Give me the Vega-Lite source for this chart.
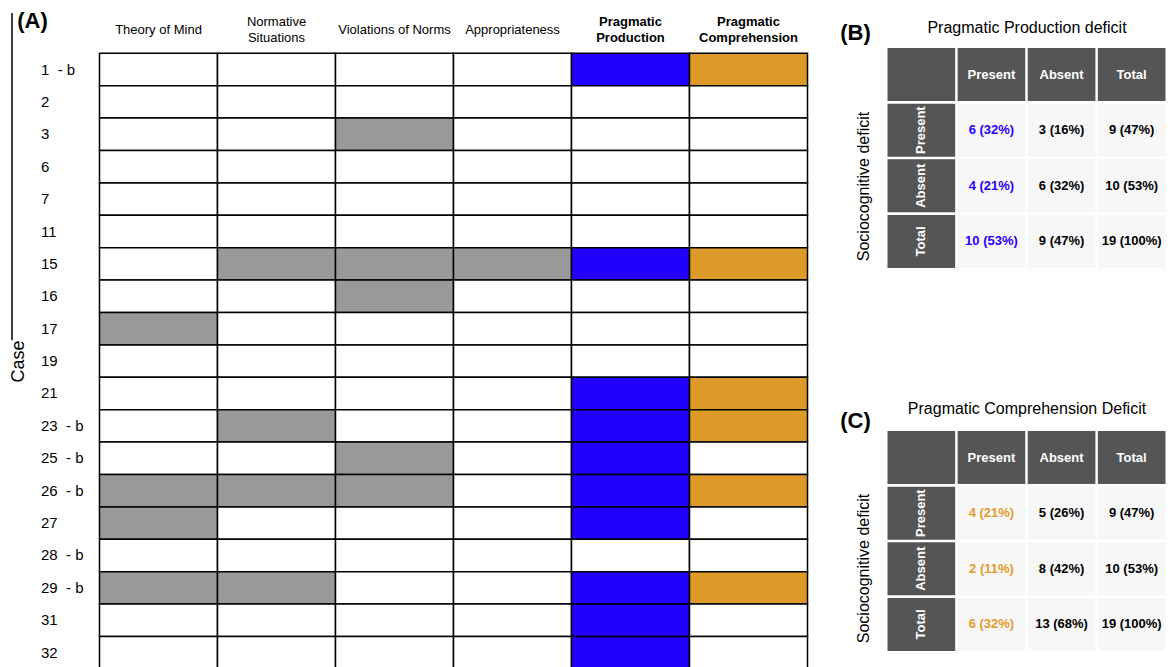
{
 "$schema": "https://vega.github.io/schema/vega-lite/v6.json",
 "padding": {"left": 9.5, "top": 9, "right": 0, "bottom": 0},
 "background": "white",
 "config": {"view": {"stroke": null}, "font": "Liberation Sans"},
 "datasets": {
  "grid": [
   {"case":"1\u00a0\u00a0- b","m":"Theory of Mind","s":"none"},{"case":"1\u00a0\u00a0- b","m":"Normative|Situations","s":"none"},{"case":"1\u00a0\u00a0- b","m":"Violations of Norms","s":"none"},{"case":"1\u00a0\u00a0- b","m":"Appropriateness","s":"none"},{"case":"1\u00a0\u00a0- b","m":"Pragmatic|Production","s":"prod"},{"case":"1\u00a0\u00a0- b","m":"Pragmatic|Comprehension","s":"comp"},
   {"case":"2","m":"Theory of Mind","s":"none"},{"case":"2","m":"Normative|Situations","s":"none"},{"case":"2","m":"Violations of Norms","s":"none"},{"case":"2","m":"Appropriateness","s":"none"},{"case":"2","m":"Pragmatic|Production","s":"none"},{"case":"2","m":"Pragmatic|Comprehension","s":"none"},
   {"case":"3","m":"Theory of Mind","s":"none"},{"case":"3","m":"Normative|Situations","s":"none"},{"case":"3","m":"Violations of Norms","s":"socio"},{"case":"3","m":"Appropriateness","s":"none"},{"case":"3","m":"Pragmatic|Production","s":"none"},{"case":"3","m":"Pragmatic|Comprehension","s":"none"},
   {"case":"6","m":"Theory of Mind","s":"none"},{"case":"6","m":"Normative|Situations","s":"none"},{"case":"6","m":"Violations of Norms","s":"none"},{"case":"6","m":"Appropriateness","s":"none"},{"case":"6","m":"Pragmatic|Production","s":"none"},{"case":"6","m":"Pragmatic|Comprehension","s":"none"},
   {"case":"7","m":"Theory of Mind","s":"none"},{"case":"7","m":"Normative|Situations","s":"none"},{"case":"7","m":"Violations of Norms","s":"none"},{"case":"7","m":"Appropriateness","s":"none"},{"case":"7","m":"Pragmatic|Production","s":"none"},{"case":"7","m":"Pragmatic|Comprehension","s":"none"},
   {"case":"11","m":"Theory of Mind","s":"none"},{"case":"11","m":"Normative|Situations","s":"none"},{"case":"11","m":"Violations of Norms","s":"none"},{"case":"11","m":"Appropriateness","s":"none"},{"case":"11","m":"Pragmatic|Production","s":"none"},{"case":"11","m":"Pragmatic|Comprehension","s":"none"},
   {"case":"15","m":"Theory of Mind","s":"none"},{"case":"15","m":"Normative|Situations","s":"socio"},{"case":"15","m":"Violations of Norms","s":"socio"},{"case":"15","m":"Appropriateness","s":"socio"},{"case":"15","m":"Pragmatic|Production","s":"prod"},{"case":"15","m":"Pragmatic|Comprehension","s":"comp"},
   {"case":"16","m":"Theory of Mind","s":"none"},{"case":"16","m":"Normative|Situations","s":"none"},{"case":"16","m":"Violations of Norms","s":"socio"},{"case":"16","m":"Appropriateness","s":"none"},{"case":"16","m":"Pragmatic|Production","s":"none"},{"case":"16","m":"Pragmatic|Comprehension","s":"none"},
   {"case":"17","m":"Theory of Mind","s":"socio"},{"case":"17","m":"Normative|Situations","s":"none"},{"case":"17","m":"Violations of Norms","s":"none"},{"case":"17","m":"Appropriateness","s":"none"},{"case":"17","m":"Pragmatic|Production","s":"none"},{"case":"17","m":"Pragmatic|Comprehension","s":"none"},
   {"case":"19","m":"Theory of Mind","s":"none"},{"case":"19","m":"Normative|Situations","s":"none"},{"case":"19","m":"Violations of Norms","s":"none"},{"case":"19","m":"Appropriateness","s":"none"},{"case":"19","m":"Pragmatic|Production","s":"none"},{"case":"19","m":"Pragmatic|Comprehension","s":"none"},
   {"case":"21","m":"Theory of Mind","s":"none"},{"case":"21","m":"Normative|Situations","s":"none"},{"case":"21","m":"Violations of Norms","s":"none"},{"case":"21","m":"Appropriateness","s":"none"},{"case":"21","m":"Pragmatic|Production","s":"prod"},{"case":"21","m":"Pragmatic|Comprehension","s":"comp"},
   {"case":"23\u00a0\u00a0- b","m":"Theory of Mind","s":"none"},{"case":"23\u00a0\u00a0- b","m":"Normative|Situations","s":"socio"},{"case":"23\u00a0\u00a0- b","m":"Violations of Norms","s":"none"},{"case":"23\u00a0\u00a0- b","m":"Appropriateness","s":"none"},{"case":"23\u00a0\u00a0- b","m":"Pragmatic|Production","s":"prod"},{"case":"23\u00a0\u00a0- b","m":"Pragmatic|Comprehension","s":"comp"},
   {"case":"25\u00a0\u00a0- b","m":"Theory of Mind","s":"none"},{"case":"25\u00a0\u00a0- b","m":"Normative|Situations","s":"none"},{"case":"25\u00a0\u00a0- b","m":"Violations of Norms","s":"socio"},{"case":"25\u00a0\u00a0- b","m":"Appropriateness","s":"none"},{"case":"25\u00a0\u00a0- b","m":"Pragmatic|Production","s":"prod"},{"case":"25\u00a0\u00a0- b","m":"Pragmatic|Comprehension","s":"none"},
   {"case":"26\u00a0\u00a0- b","m":"Theory of Mind","s":"socio"},{"case":"26\u00a0\u00a0- b","m":"Normative|Situations","s":"socio"},{"case":"26\u00a0\u00a0- b","m":"Violations of Norms","s":"socio"},{"case":"26\u00a0\u00a0- b","m":"Appropriateness","s":"none"},{"case":"26\u00a0\u00a0- b","m":"Pragmatic|Production","s":"prod"},{"case":"26\u00a0\u00a0- b","m":"Pragmatic|Comprehension","s":"comp"},
   {"case":"27","m":"Theory of Mind","s":"socio"},{"case":"27","m":"Normative|Situations","s":"none"},{"case":"27","m":"Violations of Norms","s":"none"},{"case":"27","m":"Appropriateness","s":"none"},{"case":"27","m":"Pragmatic|Production","s":"prod"},{"case":"27","m":"Pragmatic|Comprehension","s":"none"},
   {"case":"28\u00a0\u00a0- b","m":"Theory of Mind","s":"none"},{"case":"28\u00a0\u00a0- b","m":"Normative|Situations","s":"none"},{"case":"28\u00a0\u00a0- b","m":"Violations of Norms","s":"none"},{"case":"28\u00a0\u00a0- b","m":"Appropriateness","s":"none"},{"case":"28\u00a0\u00a0- b","m":"Pragmatic|Production","s":"none"},{"case":"28\u00a0\u00a0- b","m":"Pragmatic|Comprehension","s":"none"},
   {"case":"29\u00a0\u00a0- b","m":"Theory of Mind","s":"socio"},{"case":"29\u00a0\u00a0- b","m":"Normative|Situations","s":"socio"},{"case":"29\u00a0\u00a0- b","m":"Violations of Norms","s":"none"},{"case":"29\u00a0\u00a0- b","m":"Appropriateness","s":"none"},{"case":"29\u00a0\u00a0- b","m":"Pragmatic|Production","s":"prod"},{"case":"29\u00a0\u00a0- b","m":"Pragmatic|Comprehension","s":"comp"},
   {"case":"31","m":"Theory of Mind","s":"none"},{"case":"31","m":"Normative|Situations","s":"none"},{"case":"31","m":"Violations of Norms","s":"none"},{"case":"31","m":"Appropriateness","s":"none"},{"case":"31","m":"Pragmatic|Production","s":"prod"},{"case":"31","m":"Pragmatic|Comprehension","s":"none"},
   {"case":"32","m":"Theory of Mind","s":"none"},{"case":"32","m":"Normative|Situations","s":"none"},{"case":"32","m":"Violations of Norms","s":"none"},{"case":"32","m":"Appropriateness","s":"none"},{"case":"32","m":"Pragmatic|Production","s":"prod"},{"case":"32","m":"Pragmatic|Comprehension","s":"none"}
  ],
  "tabB": [
   {"r":"h","c":"h","t":""},{"r":"h","c":"Present","t":"Present"},{"r":"h","c":"Absent","t":"Absent"},{"r":"h","c":"Total","t":"Total"},
   {"r":"Present","c":"h","t":"Present"},{"r":"Present","c":"Present","t":"6 (32%)"},{"r":"Present","c":"Absent","t":"3 (16%)"},{"r":"Present","c":"Total","t":"9 (47%)"},
   {"r":"Absent","c":"h","t":"Absent"},{"r":"Absent","c":"Present","t":"4 (21%)"},{"r":"Absent","c":"Absent","t":"6 (32%)"},{"r":"Absent","c":"Total","t":"10 (53%)"},
   {"r":"Total","c":"h","t":"Total"},{"r":"Total","c":"Present","t":"10 (53%)"},{"r":"Total","c":"Absent","t":"9 (47%)"},{"r":"Total","c":"Total","t":"19 (100%)"}
  ],
  "tabC": [
   {"r":"h","c":"h","t":""},{"r":"h","c":"Present","t":"Present"},{"r":"h","c":"Absent","t":"Absent"},{"r":"h","c":"Total","t":"Total"},
   {"r":"Present","c":"h","t":"Present"},{"r":"Present","c":"Present","t":"4 (21%)"},{"r":"Present","c":"Absent","t":"5 (26%)"},{"r":"Present","c":"Total","t":"9 (47%)"},
   {"r":"Absent","c":"h","t":"Absent"},{"r":"Absent","c":"Present","t":"2 (11%)"},{"r":"Absent","c":"Absent","t":"8 (42%)"},{"r":"Absent","c":"Total","t":"10 (53%)"},
   {"r":"Total","c":"h","t":"Total"},{"r":"Total","c":"Present","t":"6 (32%)"},{"r":"Total","c":"Absent","t":"13 (68%)"},{"r":"Total","c":"Total","t":"19 (100%)"}
  ]
 },
 "bounds": "flush",
 "spacing": 80,
 "hconcat": [
  {
   "width": 708,
   "height": 626.2,
   "layer": [
    {
     "data": {"name": "grid"},
     "mark": {"type": "rect", "stroke": "black", "strokeWidth": 1.5},
     "encoding": {
      "x": {"field": "m", "type": "nominal",
            "sort": ["Theory of Mind","Normative|Situations","Violations of Norms","Appropriateness","Pragmatic|Production","Pragmatic|Comprehension"],
            "scale": {"paddingInner": 0, "paddingOuter": 0},
            "axis": {"orient": "top", "title": null, "domain": false, "ticks": false, "tickSize": 0, "labelAngle": 0,
                     "labelPadding": {"condition": {"test": "indexof(datum.value, '|') >= 0", "value": 27}, "value": 19},
                     "labelBaseline": "middle", "labelFontSize": 13, "labelLineHeight": 16,
                     "labelColor": "black", "labelLimit": 300, "labelExpr": "split(datum.label, '|')",
                     "labelFontWeight": {"condition": {"test": "indexof(datum.value, 'Pragmatic') >= 0", "value": "bold"}, "value": "normal"}}},
      "y": {"field": "case", "type": "nominal",
            "sort": ["1\u00a0\u00a0- b","2","3","6","7","11","15","16","17","19","21","23\u00a0\u00a0- b","25\u00a0\u00a0- b","26\u00a0\u00a0- b","27","28\u00a0\u00a0- b","29\u00a0\u00a0- b","31","32"],
            "scale": {"paddingInner": 0, "paddingOuter": 0.1636},
            "axis": {"orient": "left", "title": "Case", "domain": false, "ticks": false, "tickSize": 0,
                     "labelAlign": "left", "labelPadding": 59, "labelFontSize": 15, "labelColor": "black",
                     "titleFontSize": 18, "titleFontWeight": "normal", "titleColor": "black",
                     "titleX": -81, "titleBaseline": "middle"}},
      "fill": {"field": "s", "type": "nominal",
               "scale": {"domain": ["none","socio","prod","comp"], "range": ["#ffffff","#999999","#2200ff","#de9a29"]},
               "legend": null}
     }
    },
    {
     "data": {"values": [{"v": 0.5}]},
     "mark": {"type": "rule", "opacity": 0},
     "encoding": {
      "y": {"field": "v", "type": "quantitative",
            "scale": {"domain": [0, 1], "range": [-35.5, 291.7]},
            "axis": {"orient": "left", "offset": 88, "domain": true, "domainColor": "black", "domainWidth": 1.5,
                     "ticks": false, "labels": false, "grid": false,
                     "title": "(A)", "titleAngle": 0, "titleX": 20.5, "titleY": -27.5, "titleAlign": "center",
                     "titleBaseline": "middle", "titleFontSize": 22, "titleFontWeight": "bold", "titleColor": "black"}}
     }
    }
   ],
   "resolve": {"scale": {"y": "independent"}, "axis": {"y": "independent"}}
  },
  {
   "bounds": "flush",
   "spacing": 163,
   "vconcat": [
    {
     "width": 278,
     "height": 220,
     "layer": [
      {
       "data": {"name": "tabB"},
       "encoding": {
        "x": {"field": "c", "type": "nominal", "sort": ["h","Present","Absent","Total"],
              "scale": {"paddingInner": 0.035, "paddingOuter": 0},
              "axis": {"orient": "top", "labels": false, "ticks": false, "domain": false,
                       "title": "Pragmatic Production deficit", "titleFontSize": 16, "titleFontWeight": "normal",
                       "titleColor": "black", "titleBaseline": "middle", "titleY": -21}},
        "y": {"field": "r", "type": "nominal", "sort": ["h","Present","Absent","Total"],
              "scale": {"paddingInner": 0.045, "paddingOuter": 0},
              "axis": {"orient": "left", "labels": false, "ticks": false, "domain": false,
                       "title": "Sociocognitive deficit", "titleFontSize": 16, "titleFontWeight": "normal",
                       "titleColor": "black", "titleBaseline": "middle", "titleX": -24.5, "titleY": 138}}
       },
       "layer": [
        {"mark": {"type": "rect"},
         "encoding": {"fill": {"condition": {"test": "datum.r == 'h' || datum.c == 'h'", "value": "#555555"}, "value": "#f7f7f7"}}},
        {"transform": [{"filter": "datum.r == 'h' && datum.c != 'h'"}],
         "mark": {"type": "text", "fill": "white", "fontWeight": "bold", "fontSize": 13},
         "encoding": {"text": {"field": "t"}}},
        {"transform": [{"filter": "datum.c == 'h' && datum.r != 'h'"}],
         "mark": {"type": "text", "fill": "white", "fontWeight": "bold", "fontSize": 13, "angle": 270},
         "encoding": {"text": {"field": "t"}}},
        {"transform": [{"filter": "datum.c != 'h' && datum.r != 'h'"}],
         "mark": {"type": "text", "fontWeight": "bold", "fontSize": 13},
         "encoding": {"text": {"field": "t"},
                      "color": {"condition": {"test": "datum.c == 'Present'", "value": "#2a00ff"}, "value": "black"}}}
       ]
      },
      {
       "data": {"values": [{"v": 0.5}]},
       "mark": {"type": "rule", "opacity": 0},
       "encoding": {
        "y": {"field": "v", "type": "quantitative", "scale": {"domain": [0, 1]},
              "axis": {"orient": "left", "domain": false, "ticks": false, "labels": false, "grid": false,
                       "title": "(B)", "titleAngle": 0, "titleX": -32.5, "titleY": -15.5, "titleAlign": "center",
                       "titleBaseline": "middle", "titleFontSize": 22, "titleFontWeight": "bold", "titleColor": "black"}}
       }
      }
     ],
     "resolve": {"scale": {"y": "independent"}, "axis": {"y": "independent"}}
    },
    {
     "width": 278,
     "height": 220,
     "layer": [
      {
       "data": {"name": "tabC"},
       "encoding": {
        "x": {"field": "c", "type": "nominal", "sort": ["h","Present","Absent","Total"],
              "scale": {"paddingInner": 0.035, "paddingOuter": 0},
              "axis": {"orient": "top", "labels": false, "ticks": false, "domain": false,
                       "title": "Pragmatic Comprehension Deficit", "titleFontSize": 16, "titleFontWeight": "normal",
                       "titleColor": "black", "titleBaseline": "middle", "titleY": -23}},
        "y": {"field": "r", "type": "nominal", "sort": ["h","Present","Absent","Total"],
              "scale": {"paddingInner": 0.045, "paddingOuter": 0},
              "axis": {"orient": "left", "labels": false, "ticks": false, "domain": false,
                       "title": "Sociocognitive deficit", "titleFontSize": 16, "titleFontWeight": "normal",
                       "titleColor": "black", "titleBaseline": "middle", "titleX": -24.5, "titleY": 137}}
       },
       "layer": [
        {"mark": {"type": "rect"},
         "encoding": {"fill": {"condition": {"test": "datum.r == 'h' || datum.c == 'h'", "value": "#555555"}, "value": "#f7f7f7"}}},
        {"transform": [{"filter": "datum.r == 'h' && datum.c != 'h'"}],
         "mark": {"type": "text", "fill": "white", "fontWeight": "bold", "fontSize": 13},
         "encoding": {"text": {"field": "t"}}},
        {"transform": [{"filter": "datum.c == 'h' && datum.r != 'h'"}],
         "mark": {"type": "text", "fill": "white", "fontWeight": "bold", "fontSize": 13, "angle": 270},
         "encoding": {"text": {"field": "t"}}},
        {"transform": [{"filter": "datum.c != 'h' && datum.r != 'h'"}],
         "mark": {"type": "text", "fontWeight": "bold", "fontSize": 13},
         "encoding": {"text": {"field": "t"},
                      "color": {"condition": {"test": "datum.c == 'Present'", "value": "#e49b2a"}, "value": "black"}}}
       ]
      },
      {
       "data": {"values": [{"v": 0.5}]},
       "mark": {"type": "rule", "opacity": 0},
       "encoding": {
        "y": {"field": "v", "type": "quantitative", "scale": {"domain": [0, 1]},
              "axis": {"orient": "left", "domain": false, "ticks": false, "labels": false, "grid": false,
                       "title": "(C)", "titleAngle": 0, "titleX": -32.5, "titleY": -10.5, "titleAlign": "center",
                       "titleBaseline": "middle", "titleFontSize": 22, "titleFontWeight": "bold", "titleColor": "black"}}
       }
      }
     ],
     "resolve": {"scale": {"y": "independent"}, "axis": {"y": "independent"}}
    }
   ]
  }
 ]
}
